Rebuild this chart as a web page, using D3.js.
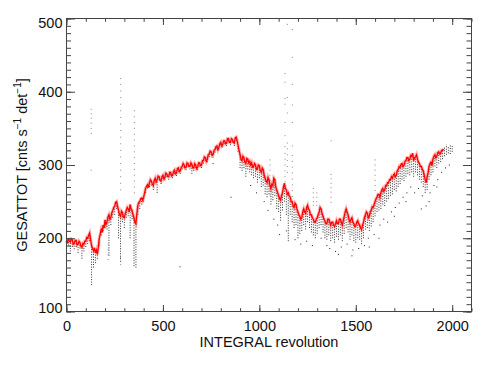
<!DOCTYPE html>
<html>
<head>
<meta charset="utf-8">
<script src="https://cdn.jsdelivr.net/npm/d3@7"></script>
<style>
body { margin: 0; background: #fff; }
svg { display: block; }
text { font-family: "Liberation Sans", Arial, sans-serif; fill: #111; }
</style>
</head>
<body>
<svg id="chart" width="491" height="368"></svg>
<script>
// red curve, one value every 5 revolutions (rev 0 .. 1955)
var redStep = 5;
var redVals = [
  197, 193, 200, 196, 195, 199, 198, 192, 193, 197, 197, 191, 192, 196, 194, 189, 188, 193, 192, 196,
  196, 201, 200, 204, 207, 198, 190, 186, 183, 187, 180, 184, 178, 188, 200, 206, 212, 208, 218, 214,
  225, 219, 222, 229, 232, 226, 228, 235, 238, 242, 244, 249, 250, 243, 238, 232, 230, 237, 235, 229,
  228, 234, 238, 242, 240, 236, 246, 240, 238, 232, 228, 222, 220, 234, 245, 249, 250, 254, 255, 252,
  256, 262, 268, 271, 273, 269, 276, 280, 278, 274, 272, 279, 282, 277, 280, 285, 284, 279, 278, 284,
  286, 281, 283, 289, 288, 284, 284, 290, 290, 285, 286, 291, 293, 288, 289, 295, 296, 291, 292, 297,
  298, 302, 300, 296, 297, 303, 302, 298, 298, 303, 301, 296, 296, 302, 300, 295, 297, 303, 303, 299,
  300, 306, 306, 311, 310, 305, 308, 314, 315, 319, 318, 313, 314, 320, 321, 325, 326, 321, 324, 329,
  331, 326, 328, 333, 333, 329, 330, 336, 336, 331, 331, 336, 335, 331, 330, 337, 338, 333, 326, 320,
  314, 308, 306, 312, 310, 304, 302, 309, 308, 303, 305, 300, 303, 297, 298, 302, 300, 294, 295, 300,
  299, 292, 290, 296, 294, 286, 282, 278, 276, 283, 280, 272, 268, 274, 272, 282, 280, 270, 266, 262,
  258, 254, 252, 258, 262, 270, 275, 268, 266, 260, 262, 258, 256, 250, 250, 244, 242, 248, 246, 240,
  236, 232, 230, 226, 228, 236, 240, 236, 234, 242, 245, 240, 238, 232, 232, 228, 226, 222, 222, 226,
  228, 232, 236, 242, 240, 234, 230, 226, 224, 220, 220, 226, 226, 222, 218, 222, 222, 218, 216, 220,
  224, 220, 220, 226, 226, 222, 218, 224, 230, 236, 240, 236, 232, 226, 222, 226, 228, 222, 220, 216,
  217, 222, 224, 220, 218, 214, 212, 218, 222, 228, 232, 236, 234, 228, 230, 236, 238, 243, 242, 246,
  250, 254, 256, 260, 260, 256, 262, 266, 268, 264, 266, 272, 272, 276, 276, 280, 280, 284, 282, 286,
  288, 284, 286, 292, 294, 298, 297, 301, 302, 298, 300, 305, 306, 310, 310, 306, 308, 313, 312, 316,
  306, 310, 311, 314, 308, 304, 302, 298, 298, 294, 292, 286, 280, 276, 284, 290, 298, 302, 304, 299,
  308, 312, 314, 310, 312, 317, 318, 315, 316, 320, 320, 322
];

// black point cloud: lower edge every 10 revolutions (rev 0 .. 2000)
var blackStep = 10;
var blackLow = [
  186, 190, 182, 188, 185, 188, 180, 186, 172, 182,
  188, 192, 196, 136, 160, 166, 172, 190, 204, 210,
  214, 212, 176, 218, 228, 232, 240, 200, 168, 222,
  214, 228, 230, 200, 226, 162, 160, 232, 240, 246,
  250, 262, 268, 270, 272, 266, 276, 262, 280, 274,
  281, 279, 284, 280, 286, 282, 288, 285, 291, 288,
  294, 296, 293, 298, 294, 288, 292, 296, 293, 298,
  296, 302, 306, 304, 311, 314, 310, 317, 322, 320,
  327, 324, 329, 326, 332, 327, 331, 326, 333, 318,
  296, 292, 296, 284, 294, 290, 286, 282, 284, 276,
  282, 270, 272, 260, 256, 260, 246, 252, 258, 240,
  236, 224, 238, 250, 232, 196, 232, 222, 214, 218,
  200, 206, 210, 218, 212, 222, 214, 208, 204, 200,
  206, 214, 218, 208, 200, 198, 204, 196, 200, 194,
  202, 198, 204, 196, 206, 214, 208, 198, 204, 196,
  194, 200, 198, 192, 200, 212, 214, 210, 216, 222,
  230, 236, 238, 240, 246, 244, 250, 254, 258, 260,
  266, 264, 270, 274, 280, 278, 284, 288, 286, 290,
  284, 290, 286, 280, 276, 270, 262, 266, 280, 286,
  290, 298, 296, 302, 304, 308, 312, 314, 316, 315,
  318
];

// upper edge of the black points after the red curve ends (rev 1960 .. 2000)
var tailTop = [324, 328, 325, 327, 326];

// isolated black points [rev, value]
var strays = [
  [588, 161], [760, 302], [853, 256], [955, 272], [985, 262], [1025, 250],
  [1045, 238], [1075, 226], [1095, 218], [1105, 205], [1140, 210], [1185, 198],
  [1215, 192], [1245, 196], [1275, 190], [1320, 200], [1350, 190], [1365, 186],
  [1395, 182], [1410, 178], [1425, 188], [1455, 192], [1480, 176], [1485, 184],
  [1515, 186], [1545, 190], [1565, 200], [1570, 188], [1595, 205], [1620, 200],
  [1625, 218], [1645, 226], [1665, 222], [1685, 236], [1700, 230], [1705, 242],
  [1725, 248], [1745, 256], [1760, 250], [1765, 262], [1785, 270], [1805, 262],
  [1825, 268], [1840, 240], [1845, 258], [1865, 244], [1880, 250], [1885, 262],
  [1905, 272], [1920, 270], [1925, 280], [1945, 290], [1965, 296], [1985, 300]
];

// grey dotted streaks
var spikeRevs = [128, 216, 281, 352, 1055, 1133, 1145, 1171, 1280, 1298, 1372, 1600];
var spikeVals = [
  [376, 370, 364, 357, 350, 343, 293],
  [192, 185, 178, 171],
  [418, 410, 401, 392, 383, 374, 365, 356, 347, 338, 329, 320, 311, 302, 293, 284, 275, 266, 174, 168, 164],
  [374, 366, 358, 350, 342, 334, 326, 318, 310, 302, 294, 286, 278, 270, 262],
  [307, 300, 293, 286, 279, 272, 265, 259],
  [425, 413, 391, 383, 358, 340, 325, 316, 308, 300, 292, 284, 277],
  [492, 392, 371, 330, 322, 314, 306, 298, 290],
  [485, 447, 410, 382, 358, 326, 313, 305, 297, 289, 281, 273, 265, 257, 249],
  [268, 262, 256, 250, 245],
  [262, 256, 250, 245],
  [333, 287, 281, 275, 269, 263, 256, 249],
  [307, 300, 293, 286, 279, 272, 265]
];

var xTicks = [0, 500, 1000, 1500, 2000];
var yTicks = [100, 200, 300, 400, 500];
var xMinor = [0, 100, 200, 300, 400, 500, 600, 700, 800, 900, 1000, 1100, 1200, 1300, 1400, 1500, 1600, 1700, 1800, 1900, 2000, 2100];
var yMinor = [100, 110, 120, 130, 140, 150, 160, 170, 180, 190, 200, 210, 220, 230, 240, 250, 260, 270, 280, 290,
  300, 310, 320, 330, 340, 350, 360, 370, 380, 390, 400, 410, 420, 430, 440, 450, 460, 470, 480, 490, 500];

var plotL = 66.5, plotR = 471.5, plotT = 18.5, plotB = 311.5;
var frameColor = '#444';

var svg = d3.select('#chart');
var x = d3.scaleLinear().domain([0, 2100]).range([plotL, plotR]);
var y = d3.scaleLinear().domain([100, 500]).range([plotB, plotT]);

var plot = svg.append('g');

// black point cloud, one dotted column per sample, up to the red curve
var cols = blackLow.map(function(lo, i) {
  var rev = i * blackStep;
  var ri = rev / redStep;
  var hi = ri < redVals.length ? redVals[ri] : tailTop[i - Math.ceil(redVals.length * redStep / blackStep)];
  return { rev: rev, lo: lo, hi: hi };
});
plot.selectAll('line.cloud').data(cols).enter()
  .append('line').attr('class', 'cloud')
  .attr('x1', function(d) { return x(d.rev); })
  .attr('x2', function(d) { return x(d.rev); })
  .attr('y1', function(d) { return y(d.lo); })
  .attr('y2', function(d) { return y(d.hi); })
  .attr('stroke', '#111')
  .attr('stroke-width', 1)
  .attr('stroke-dasharray', '1,1.5')
  .attr('opacity', 0.85);

plot.selectAll('rect.stray').data(strays).enter()
  .append('rect').attr('class', 'stray')
  .attr('x', function(d) { return x(d[0]) - 0.5; })
  .attr('y', function(d) { return y(d[1]) - 0.5; })
  .attr('width', 1).attr('height', 1)
  .attr('fill', '#222');

// grey streaks
var spikePts = [];
spikeRevs.forEach(function(r, i) {
  spikeVals[i].forEach(function(v) { spikePts.push([r, v]); });
});
plot.selectAll('rect.spike').data(spikePts).enter()
  .append('rect').attr('class', 'spike')
  .attr('x', function(d) { return x(d[0]) - 0.5; })
  .attr('y', function(d) { return y(d[1]) - 0.5; })
  .attr('width', 1).attr('height', 1)
  .attr('fill', '#888');

// red curve: soft halo plus the line itself
var line = d3.line()
  .x(function(d, i) { return x(i * redStep); })
  .y(function(d) { return y(d); });
plot.append('path')
  .datum(redVals)
  .attr('d', line)
  .attr('fill', 'none')
  .attr('stroke', '#ff3030')
  .attr('stroke-opacity', 0.35)
  .attr('stroke-width', 3.2);
plot.append('path')
  .datum(redVals)
  .attr('d', line)
  .attr('fill', 'none')
  .attr('stroke', '#ff0000')
  .attr('stroke-width', 1.3);

// axes, ticks inward on all four sides
function styleAxis(g) {
  g.select('.domain').remove();
  g.selectAll('line').attr('stroke', frameColor);
  g.selectAll('text').attr('font-size', '14.5px').attr('fill', '#111')
    .attr('font-family', '"Liberation Sans", Arial, sans-serif');
}

svg.append('g').attr('transform', 'translate(0,' + plotB + ')')
  .call(d3.axisBottom(x).tickValues(xMinor).tickSize(-3.3).tickFormat(''))
  .call(styleAxis);
svg.append('g').attr('transform', 'translate(0,' + plotB + ')')
  .call(d3.axisBottom(x).tickValues(xTicks).tickSize(-6.5).tickPadding(9).tickFormat(d3.format('d')))
  .call(styleAxis);
svg.append('g').attr('transform', 'translate(0,' + plotT + ')')
  .call(d3.axisTop(x).tickValues(xMinor).tickSize(-3.3).tickFormat(''))
  .call(styleAxis);
svg.append('g').attr('transform', 'translate(0,' + plotT + ')')
  .call(d3.axisTop(x).tickValues(xTicks).tickSize(-6.5).tickFormat(''))
  .call(styleAxis);

svg.append('g').attr('transform', 'translate(' + plotL + ',0)')
  .call(d3.axisLeft(y).tickValues(yMinor).tickSize(-4.5).tickFormat(''))
  .call(styleAxis);
var yAxisG = svg.append('g').attr('transform', 'translate(' + plotL + ',0)')
  .call(d3.axisLeft(y).tickValues(yTicks).tickSize(-8.5).tickPadding(4).tickFormat(d3.format('d')))
  .call(styleAxis);
// keep end labels inside the frame height
yAxisG.selectAll('text').attr('y', function(d) {
  if (d === 500) return 4;
  if (d === 100) return -4;
  return 0;
});
svg.append('g').attr('transform', 'translate(' + plotR + ',0)')
  .call(d3.axisRight(y).tickValues(yMinor).tickSize(-5).tickFormat(''))
  .call(styleAxis);
svg.append('g').attr('transform', 'translate(' + plotR + ',0)')
  .call(d3.axisRight(y).tickValues(yTicks).tickSize(-8.5).tickFormat(''))
  .call(styleAxis);

svg.append('rect')
  .attr('x', plotL).attr('y', plotT)
  .attr('width', plotR - plotL).attr('height', plotB - plotT)
  .attr('fill', 'none').attr('stroke', frameColor).attr('stroke-width', 1);

// axis titles
svg.append('text')
  .attr('x', (plotL + plotR) / 2).attr('y', 347)
  .attr('text-anchor', 'middle')
  .attr('font-size', '14.5px')
  .text('INTEGRAL revolution');

var yTitle = svg.append('text')
  .attr('transform', 'translate(26.5,165) rotate(-90)')
  .attr('text-anchor', 'middle')
  .attr('font-size', '14.5px');
yTitle.append('tspan').text('GESATTOT [cnts s');
yTitle.append('tspan').attr('dy', -6).attr('font-size', '10px').text('\u22121');
yTitle.append('tspan').attr('dy', 6).text(' det');
yTitle.append('tspan').attr('dy', -6).attr('font-size', '10px').text('\u22121');
yTitle.append('tspan').attr('dy', 6).text(']');
</script>
</body>
</html>
